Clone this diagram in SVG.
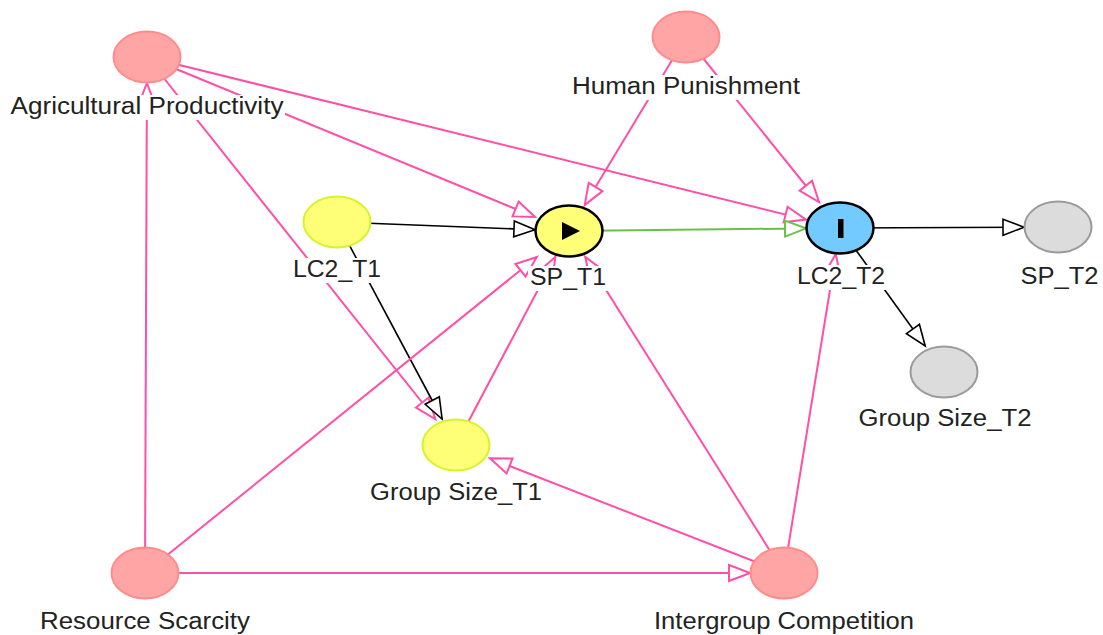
<svg xmlns="http://www.w3.org/2000/svg" width="1103" height="635" viewBox="0 0 1103 635">
<style>
.e{fill:none;stroke-width:2}
.pk{stroke:#ff4fa6}
.bk{stroke:#000;stroke-width:1.6}
.gr{stroke:#6cc04a}
.n{stroke-width:2}
.anc{fill:#ffa5a5;stroke:#ff8c8c}
.yel{fill:#ffff77;stroke:#d2f52c}
.gry{fill:#dcdcdc;stroke:#9a9a9a}
.exp{fill:#ffff77;stroke:#000;stroke-width:2.5}
.out{fill:#72caff;stroke:#000;stroke-width:2.5}
.lb{fill:#fff}
text{font-family:"Liberation Sans",Arial,sans-serif;font-size:23px;fill:#222;text-anchor:middle}
marker{overflow:visible}
</style>
<defs>
<marker id="mp" markerWidth="26" markerHeight="20" refX="22" refY="9" orient="auto" markerUnits="userSpaceOnUse"><path d="M1,1 L22,9 L1,17 Z" fill="#fff" stroke="#ff4fa6" stroke-width="2"/></marker>
<marker id="mb" markerWidth="26" markerHeight="20" refX="22" refY="9" orient="auto" markerUnits="userSpaceOnUse"><path d="M1,1 L22,9 L1,17 Z" fill="#fff" stroke="#000" stroke-width="1.6"/></marker>
<marker id="mg" markerWidth="26" markerHeight="20" refX="22" refY="9" orient="auto" markerUnits="userSpaceOnUse"><path d="M1,1 L22,9 L1,17 Z" fill="#fff" stroke="#6cc04a" stroke-width="2"/></marker>
</defs>
<g id="connectors">
<path class="e pk" d="M147,57 L535,217" marker-end="url(#mp)"/>
<path class="e pk" d="M147,57 L806,219.6" marker-end="url(#mp)"/>
<path class="e pk" d="M147,57 L435.3,419" marker-end="url(#mp)"/>
<path class="e pk" d="M145,573 L146.9,83" marker-end="url(#mp)"/>
<path class="e pk" d="M686,37 L584.7,205" marker-end="url(#mp)"/>
<path class="e pk" d="M686,37 L819,202" marker-end="url(#mp)"/>
<path class="e bk" d="M337,222 L535,229.7" marker-end="url(#mb)"/>
<path class="e bk" d="M337,222 L442.1,419" marker-end="url(#mb)"/>
<path class="e gr" d="M569,231 L806,228.4" marker-end="url(#mg)"/>
<path class="e bk" d="M840,228 L1024,227.2" marker-end="url(#mb)"/>
<path class="e bk" d="M840,228 L925.2,346" marker-end="url(#mb)"/>
<path class="e pk" d="M145,573 L536.8,257" marker-end="url(#mp)"/>
<path class="e pk" d="M145,573 L750,573" marker-end="url(#mp)"/>
<path class="e pk" d="M456,445 L555.3,257" marker-end="url(#mp)"/>
<path class="e pk" d="M784,573 L585.3,257" marker-end="url(#mp)"/>
<path class="e pk" d="M784,573 L835.8,254" marker-end="url(#mp)"/>
<path class="e pk" d="M784,573 L490,458.3" marker-end="url(#mp)"/>
</g>
<g id="n-ap"><ellipse class="n anc" cx="147" cy="57" rx="33.5" ry="25.5"/><rect class="lb" x="8" y="95" width="277" height="25"/><text x="147" y="114" textLength="273" lengthAdjust="spacingAndGlyphs">Agricultural Productivity</text></g>
<g id="n-hp"><ellipse class="n anc" cx="686" cy="37" rx="33.5" ry="25.5"/><rect class="lb" x="570" y="75" width="232" height="25"/><text x="686" y="94" textLength="228" lengthAdjust="spacingAndGlyphs">Human Punishment</text></g>
<g id="n-lc2t1"><ellipse class="n yel" cx="337" cy="222" rx="33.5" ry="25.5"/><rect class="lb" x="291" y="258" width="92" height="25"/><text x="337" y="277" textLength="88" lengthAdjust="spacingAndGlyphs">LC2_T1</text></g>
<g id="n-spt1"><ellipse class="exp" cx="569" cy="231" rx="33.5" ry="25.5"/><polygon points="562,222 580,231 562,240" fill="#000"/><rect class="lb" x="528" y="266" width="80" height="25"/><text x="568" y="285" textLength="76" lengthAdjust="spacingAndGlyphs">SP_T1</text></g>
<g id="n-lc2t2"><ellipse class="out" cx="840" cy="228" rx="33.5" ry="25.5"/><rect x="838" y="219" width="5.5" height="19" fill="#000"/><rect class="lb" x="795" y="265" width="92" height="25"/><text x="841" y="284" textLength="88" lengthAdjust="spacingAndGlyphs">LC2_T2</text></g>
<g id="n-spt2"><ellipse class="n gry" cx="1058" cy="227" rx="33.5" ry="25.5"/><rect class="lb" x="1019" y="265" width="82" height="25"/><text x="1059.5" y="284" textLength="78" lengthAdjust="spacingAndGlyphs">SP_T2</text></g>
<g id="n-gst1"><ellipse class="n yel" cx="456" cy="445" rx="33.5" ry="25.5"/><rect class="lb" x="368" y="481" width="176" height="25"/><text x="456" y="500" textLength="172" lengthAdjust="spacingAndGlyphs">Group Size_T1</text></g>
<g id="n-gst2"><ellipse class="n gry" cx="944" cy="372" rx="33.5" ry="25.5"/><rect class="lb" x="856" y="407" width="177" height="25"/><text x="945" y="426" textLength="173" lengthAdjust="spacingAndGlyphs">Group Size_T2</text></g>
<g id="n-rs"><ellipse class="n anc" cx="145" cy="573" rx="33.5" ry="25.5"/><rect class="lb" x="38" y="610" width="214" height="25"/><text x="145" y="629" textLength="210" lengthAdjust="spacingAndGlyphs">Resource Scarcity</text></g>
<g id="n-ic"><ellipse class="n anc" cx="784" cy="573" rx="33.5" ry="25.5"/><rect class="lb" x="652" y="610" width="264" height="25"/><text x="784" y="629" textLength="260" lengthAdjust="spacingAndGlyphs">Intergroup Competition</text></g>
</svg>
